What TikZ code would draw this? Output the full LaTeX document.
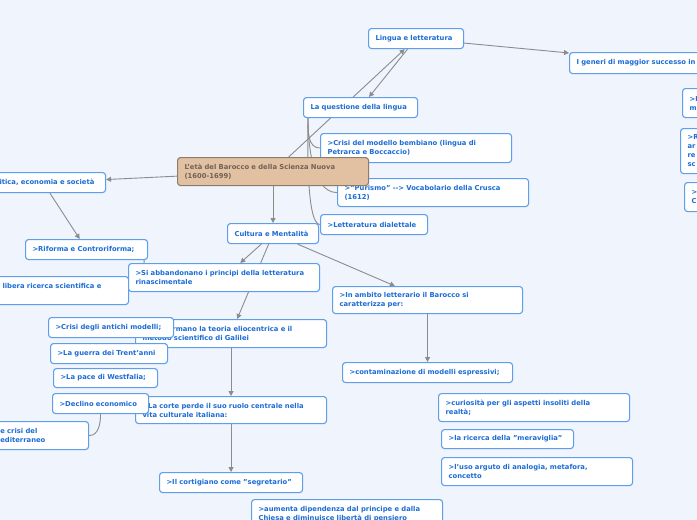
\documentclass[tikz,border=0pt]{standalone}
\usepackage{fontspec}
\setsansfont{DejaVu Sans}
\usepackage{xcolor}
\definecolor{mmbg}{RGB}{240,244,253}
\definecolor{mmblue}{RGB}{95,158,235}
\definecolor{mmtext}{RGB}{28,108,214}
\definecolor{mmtan}{RGB}{226,193,162}
\definecolor{mmbrown}{RGB}{140,124,108}
\definecolor{mmdark}{RGB}{112,98,86}
\definecolor{mmgray}{RGB}{140,140,140}
\usetikzlibrary{arrows.meta}
\pgfdeclarelayer{bg}
\pgfdeclarelayer{links}
\pgfsetlayers{bg,links,main}
\newcommand{\mmfont}{\sffamily\bfseries\fontsize{6.8}{9}\selectfont}
\tikzset{
  topic/.style={draw=mmblue, fill=white, line width=1.1pt, rounded corners=3pt, text=mmtext, font=\mmfont, align=left, anchor=north west, inner xsep=7pt, inner ysep=2pt},
  root/.style={topic, draw=mmbrown, fill=mmtan, text=mmdark},
  link/.style={draw=mmgray, line width=0.9pt, -{Triangle[length=5pt,width=5pt]}},
  branch/.style={draw=mmgray, line width=0.9pt},
}

\begin{document}
\begin{tikzpicture}[x=1pt, y=-1pt]
  \useasboundingbox (0,0) rectangle (697,520);
  \clip (0,0) rectangle (697,520);
  \begin{pgfonlayer}{bg}
    \fill[mmbg] (0,0) rectangle (697,520);
  \end{pgfonlayer}

  % --- Lingua e letteratura ---
  \node[topic, text width=81pt, minimum height=20pt] (lingua) at (368,28) {Lingua e letteratura};
  \node[topic, text width=100pt, minimum height=20pt] (qlingua) at (303,97) {La questione della lingua};
  \node[topic, text width=177pt, minimum height=29pt] (bembo) at (320,133) {>Crisi del modello bembiano (lingua di\\Petrarca e Boccaccio)};
  \node[topic, text width=177pt, minimum height=28pt] (crusca) at (337,178) {>"Purismo" -{}-> Vocabolario della Crusca\\(1612)};
  \node[topic, text width=93pt, minimum height=20pt] (dialett) at (320,214) {>Letteratura dialettale};
  \node[topic, text width=200pt, minimum height=21pt] (generi) at (569,52) {I generi di maggior successo in};
  \node[topic, text width=46pt, minimum height=29pt] (genA) at (682,88) {>I\\m};
  \node[topic, text width=46pt, minimum height=45pt] (genB) at (680,128) {>R\\ar\\re\\sc};
  \node[topic, text width=46pt, minimum height=29pt] (genC) at (684,182) {>\\C};

  % --- Politica, economia e societa ---
  \node[topic, text width=111pt, minimum height=20pt] (politica) at (-20,172) {Politica, economia e società};
  \node[topic, text width=108pt, minimum height=20pt] (riforma) at (25,239) {>Riforma e Controriforma;};
  \node[topic, text width=119pt, minimum height=28pt] (libera) at (-5,276) {libera ricerca scientifica e\\\mbox{}};

  % --- Cultura e Mentalita ---
  \node[topic, text width=77pt, minimum height=20pt] (cultura) at (227,223) {Cultura e Mentalità};
  \node[topic, text width=177pt, minimum height=28pt] (siabb) at (128,263) {>Si abbandonano i principi della letteratura\\rinascimentale};
  \node[topic, text width=177pt, minimum height=28pt] (siaff) at (135,319) {>Si affermano la teoria eliocentrica e il\\metodo scientifico di Galilei};
  \node[topic, text width=111pt, minimum height=20pt] (crisi) at (48,317) {>Crisi degli antichi modelli;};
  \node[topic, text width=103pt, minimum height=20pt] (guerra) at (50,343) {>La guerra dei Trent'anni};
  \node[topic, text width=90pt, minimum height=19pt] (pace) at (53,368) {>La pace di Westfalia;};
  \node[topic, text width=177pt, minimum height=27pt] (corte) at (135,396) {>La corte perde il suo ruolo centrale nella\\vita culturale italiana:};
  \node[topic, text width=82pt, minimum height=20pt] (declino) at (52,393) {>Declino economico};
  \node[topic, text width=88pt, minimum height=28pt] (medit) at (-14,421) {\phantom{M}e crisi del\\Mediterraneo};
  \node[topic, text width=129pt, minimum height=20pt] (cortig) at (159,472) {>Il cortigiano come "segretario"};
  \node[topic, text width=177pt, minimum height=30pt] (aumenta) at (251,499) {>aumenta dipendenza dal principe e dalla\\Chiesa e diminuisce libertà di pensiero};
  \node[topic, text width=176pt, minimum height=27pt] (ambito) at (332,286) {>In ambito letterario il Barocco si\\caratterizza per:};
  \node[topic, text width=156pt, minimum height=20pt] (contam) at (342,362) {>contaminazione di modelli espressivi;};
  \node[topic, text width=177pt, minimum height=28pt] (curios) at (438,393) {>curiosità per gli aspetti insoliti della\\realtà;};
  \node[topic, text width=118pt, minimum height=19pt] (meravig) at (441,429) {>la ricerca della "meraviglia"};
  \node[topic, text width=177pt, minimum height=28pt] (arguto) at (441,457) {>l'uso arguto di analogia, metafora,\\concetto};

  % --- Central topic ---
  \node[root, text width=177pt, minimum height=28pt] (barocco) at (177,157) {L'età del Barocco e della Scienza Nuova\\(1600-1699)};

  % --- Connectors ---
  \begin{pgfonlayer}{links}
    \draw[link] (barocco) -- (lingua);
    \draw[link] (lingua) -- (qlingua);
    \draw[link] (lingua) -- (generi);
    \draw[link] (barocco) -- (politica);
    \draw[link] (politica) -- (riforma);
    \draw[link] (barocco) -- (cultura);
    \draw[link] (cultura) -- (siabb);
    \draw[link] (cultura) -- (siaff);
    \draw[link] (cultura) -- (ambito);
    \draw[link] (siaff) -- (corte);
    \draw[link] (corte) -- (cortig);
    \draw[link] (ambito) -- (contam);
    % tree branches
    \draw[branch] ([xshift=5pt]qlingua.south west) to[out=-90, in=180] (bembo.west);
    \draw[branch] ([xshift=5pt]qlingua.south west) to[out=-90, in=180, looseness=0.8] (crusca.west);
    \draw[branch] ([xshift=5pt]qlingua.south west) to[out=-90, in=180, looseness=0.35] (dialett.west);
    \draw[branch] ([xshift=-4pt]riforma.south east) to[out=-90, in=0] (libera.east);
    \draw[branch] (declino.south) to[out=-90, in=0] (medit.east);
  \end{pgfonlayer}
\end{tikzpicture}
\end{document}
